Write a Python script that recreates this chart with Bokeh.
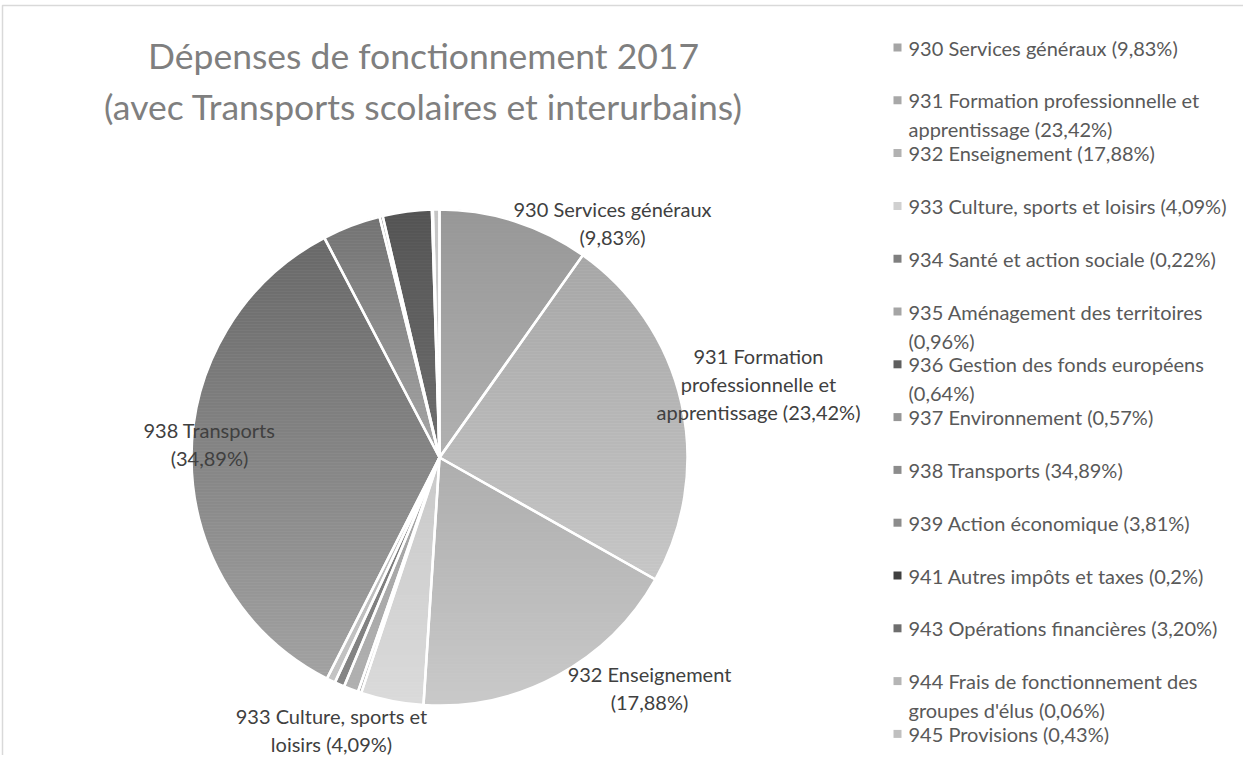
import numpy as np
from bokeh.plotting import figure
from bokeh.models import Range1d, ColumnDataSource
from bokeh.embed import file_html
from bokeh.resources import INLINE
from bokeh.core.properties import value

# ---------------- data ----------------
codes = ["930", "931", "932", "933", "934", "935", "936", "937",
         "938", "939", "941", "943", "944", "945"]
names = ["Services généraux", "Formation professionnelle et apprentissage",
         "Enseignement", "Culture, sports et loisirs", "Santé et action sociale",
         "Aménagement des territoires", "Gestion des fonds européens",
         "Environnement", "Transports", "Action économique",
         "Autres impôts et taxes", "Opérations financières",
         "Frais de fonctionnement des groupes d'élus", "Provisions"]
shares = [9.83, 23.42, 17.88, 4.09, 0.22, 0.96, 0.64, 0.57,
          34.89, 3.81, 0.2, 3.20, 0.06, 0.43]
share_text = ["9,83%", "23,42%", "17,88%", "4,09%", "0,22%", "0,96%", "0,64%",
              "0,57%", "34,89%", "3,81%", "0,2%", "3,20%", "0,06%", "0,43%"]
# gradient: colour at the top and at the bottom of each slice
top_colors = ["#979797", "#a6a6a6", "#adadad", "#c9c9c9", "#8a8a8a", "#a0a0a0",
              "#757575", "#b4b4b4", "#686868", "#727272", "#3f3f3f", "#545454",
              "#b8b8b8", "#c4c4c4"]
bottom_colors = ["#b0b0b0", "#c6c6c6", "#c9c9c9", "#dadada", "#9a9a9a", "#b0b0b0",
                 "#858585", "#c4c4c4", "#a2a2a2", "#a6a6a6", "#4f4f4f", "#6e6e6e",
                 "#c8c8c8", "#d4d4d4"]
legend_colors = ["#a5a5a5", "#a8a8a8", "#b2b2b2", "#d0d0d0", "#7f7f7f", "#a5a5a5",
                 "#5f5f5f", "#969696", "#8c8c8c", "#8c8c8c", "#404040", "#6e6e6e",
                 "#b5b5b5", "#c0c0c0"]
legend_lines = [
    ["930 Services généraux (9,83%)"],
    ["931 Formation professionnelle et", "apprentissage (23,42%)"],
    ["932 Enseignement (17,88%)"],
    ["933 Culture, sports et loisirs (4,09%)"],
    ["934 Santé et action sociale (0,22%)"],
    ["935 Aménagement des territoires", "(0,96%)"],
    ["936 Gestion des fonds européens", "(0,64%)"],
    ["937 Environnement (0,57%)"],
    ["938 Transports (34,89%)"],
    ["939 Action économique (3,81%)"],
    ["941 Autres impôts et taxes (0,2%)"],
    ["943 Opérations financières (3,20%)"],
    ["944 Frais de fonctionnement des", "groupes d'élus (0,06%)"],
    ["945 Provisions (0,43%)"],
]
label_lines = [
    ["930 Services généraux", "(9,83%)"],
    ["931 Formation", "professionnelle et", "apprentissage (23,42%)"],
    ["932 Enseignement", "(17,88%)"],
    ["933 Culture, sports et", "loisirs (4,09%)"],
    ["938 Transports", "(34,89%)"],
]
title_lines = ["Dépenses de fonctionnement 2017",
               "(avec Transports scolaires et interurbains)"]

# ---------------- layout (page pixel coords) ----------------
W, H = 1243, 755
def X(px):
    return px - 8
def Y(py):
    return H + 8 - py

cx, cy, R = 447, 465, 248
label_pos = [(620, 216), (766, 363), (657, 681), (339, 723), (217, 437)]
label_step = 28
legend_mx, legend_tx, legend_y0, legend_step = 905, 916, 55, 52.8

p = figure(width=W, height=H, output_backend="svg", toolbar_location=None,
           x_range=Range1d(0, W), y_range=Range1d(0, H), min_border=0)
p.axis.visible = False
p.grid.visible = False
p.outline_line_color = None
p.background_fill_color = "white"
p.border_fill_color = "white"

# chart frame
p.line([X(10), X(10), X(1262)], [Y(780), Y(13), Y(13)], line_color="#d9d9d9", line_width=1.5)

# ---------------- pie with per-slice vertical gradient ----------------
vals = np.array(shares)
frac = vals / vals.sum()
cum = np.concatenate([[0], np.cumsum(frac)])

def hex2rgb(h):
    return np.array([int(h[i:i + 2], 16) for i in (1, 3, 5)], dtype=float)

def rgb2hex(c):
    return "#%02x%02x%02x" % tuple(int(round(v)) for v in c)

def clip_half(pts, inside, cval):
    out = []
    n = len(pts)
    for j in range(n):
        cur = pts[j]
        prev = pts[j - 1]
        ci, pi_ = inside(cur), inside(prev)
        if ci:
            if not pi_:
                t = (cval - prev[1]) / (cur[1] - prev[1])
                out.append((prev[0] + t * (cur[0] - prev[0]), cval))
            out.append(cur)
        elif pi_:
            t = (cval - prev[1]) / (cur[1] - prev[1])
            out.append((prev[0] + t * (cur[0] - prev[0]), cval))
    return out

band_xs, band_ys, band_cols = [], [], []
for i in range(len(vals)):
    a0, a1 = cum[i] * 2 * np.pi, cum[i + 1] * 2 * np.pi
    n = max(3, int(np.degrees(a1 - a0) * 2))
    th = np.linspace(a0, a1, n)
    poly = [(cx, cy)] + [(cx + R * np.sin(t), cy - R * np.cos(t)) for t in th]
    ys_ = [q[1] for q in poly]
    ymin, ymax = min(ys_), max(ys_)
    c0, c1 = hex2rgb(top_colors[i]), hex2rgb(bottom_colors[i])
    step = 3.0
    yb = ymin
    while yb < ymax:
        ye = min(yb + step, ymax)
        part = clip_half(poly, lambda q: q[1] >= yb, yb)
        if part:
            part = clip_half(part, lambda q: q[1] <= ye, ye)
        if len(part) >= 3:
            t = ((yb + ye) / 2 - ymin) / max(ymax - ymin, 1e-6)
            band_xs.append([X(q[0]) for q in part])
            band_ys.append([Y(q[1]) for q in part])
            band_cols.append(rgb2hex(c0 + (c1 - c0) * t))
        yb = ye

p.patches(xs=band_xs, ys=band_ys, fill_color=band_cols, line_color=band_cols,
          line_width=0.8)

start = np.pi / 2 - cum[:-1] * 2 * np.pi
end = np.pi / 2 - cum[1:] * 2 * np.pi
src = ColumnDataSource(dict(start=start, end=end,
                            x=[X(cx)] * len(vals), y=[Y(cy)] * len(vals)))
p.wedge(x="x", y="y", radius=R, start_angle="start", end_angle="end",
        direction="clock", fill_color=None, line_color="white",
        line_width=2.5, source=src)

FONT = value("Lato")

# data labels
for (lx, ly), lines in zip(label_pos, label_lines):
    for k, t in enumerate(lines):
        p.text(x=[X(lx)], y=[Y(ly + k * label_step)], text=[t], text_font=FONT,
               text_font_size="20px", text_color="#404040",
               text_align="center", text_baseline="middle")

# title
for k, t in enumerate(title_lines):
    p.text(x=[X(431)], y=[Y(63 + k * 51)], text=[t], text_font=FONT,
           text_font_size="35.5px", text_color="#7f7f7f",
           text_align="center", text_baseline="middle")

# legend
for i, lines in enumerate(legend_lines):
    yy = legend_y0 + i * legend_step
    p.rect(x=[X(legend_mx)], y=[Y(yy)], width=8, height=8,
           fill_color=legend_colors[i], line_color=None)
    for k, t in enumerate(lines):
        p.text(x=[X(legend_tx)], y=[Y(yy + k * 29)], text=[t], text_font=FONT,
               text_font_size="20px", text_color="#595959",
               text_align="left", text_baseline="middle")

open("out.html", "w").write(file_html(p, INLINE))
